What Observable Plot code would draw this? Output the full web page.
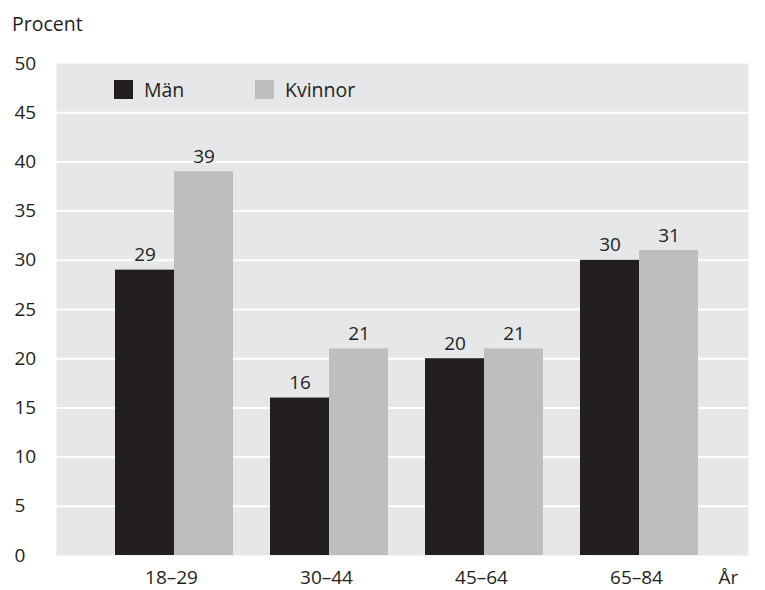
<!DOCTYPE html>
<html><head><meta charset="utf-8">
<script src="https://cdn.jsdelivr.net/npm/d3@7"></script>
<script src="https://cdn.jsdelivr.net/npm/@observablehq/plot@0.6"></script>
<style>
body{margin:0;background:#fff;font-family:"Open Sans",sans-serif;color:#231f20;}
#wrap{position:relative;width:765px;height:590px;overflow:hidden;}
#title{position:absolute;left:12px;top:11px;font-size:19.5px;line-height:26px;}
#chart{position:absolute;left:0;top:40px;}
.leg{position:absolute;top:80px;height:19px;display:flex;align-items:center;font-size:19.5px;}
.sw{width:19px;height:19px;margin-right:11px;}
</style></head>
<body>
<div id="wrap">
  <div id="title">Procent</div>
  <div id="chart"></div>
  <div class="leg" style="left:114px"><div class="sw" style="background:#231f20"></div><span>Män</span></div>
  <div class="leg" style="left:255px"><div class="sw" style="background:#bcbec0"></div><span>Kvinnor</span></div>
</div>
<script>
const categories = ["18–29", "30–44", "45–64", "65–84"];
const man = [29, 16, 20, 30];
const kvinnor = [39, 21, 21, 31];
const yTicks = [0, 5, 10, 15, 20, 25, 30, 35, 40, 45, 50];
const gridValues = [5, 10, 15, 20, 25, 30, 35, 40, 45];

const data = categories.map((g, i) => ({group: g, man: man[i], kvinnor: kvinnor[i]}));

const chart = Plot.plot({
  width: 765,
  height: 550,
  marginLeft: 56,
  marginRight: 17,
  marginTop: 23,
  marginBottom: 35,
  x: {domain: categories, range: [115, 698], paddingInner: 0.239, paddingOuter: 0, label: null},
  y: {domain: [0, 50], label: null},
  style: {fontFamily: "Open Sans, sans-serif", fontSize: "18px", color: "#231f20", background: "transparent"},
  marks: [
    Plot.frame({fill: "#e6e7e8", stroke: null}),
    Plot.ruleY(gridValues, {stroke: "white", strokeWidth: 2}),
    Plot.barY(data, {x: "group", y: "man", fill: "#231f20", insetRight: 59}),
    Plot.barY(data, {x: "group", y: "kvinnor", fill: "#bcbec0", insetLeft: 59}),
    Plot.text(data, {x: "group", y: "man", text: "man", dx: -29.5, dy: -15, fill: "#231f20", fontSize: 19}),
    Plot.text(data, {x: "group", y: "kvinnor", text: "kvinnor", dx: 29.5, dy: -15, fill: "#231f20", fontSize: 19}),
    Plot.axisX({tickSize: 0, tickPadding: 15, dx: -3, label: null, fontSize: 19}),
    Plot.axisY({ticks: yTicks, tickSize: 0, tickPadding: 3, textAnchor: "start", dx: -39, label: null, fontSize: 19}),
    Plot.text(["År"], {frameAnchor: "bottom-right", textAnchor: "middle", lineAnchor: "top", dx: -20, dy: 15, fill: "#231f20", fontSize: 19})
  ]
});
document.getElementById("chart").appendChild(chart);
</script>
</body></html>
